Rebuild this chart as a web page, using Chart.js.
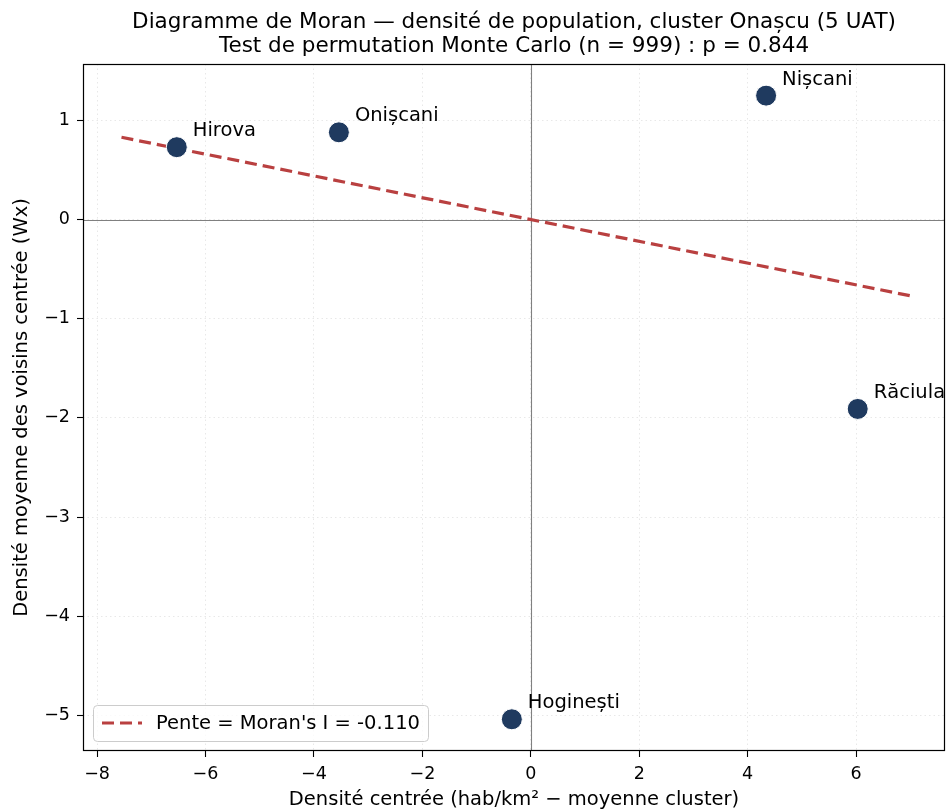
<!DOCTYPE html>
<html>
<head>
<meta charset="utf-8">
<script src="https://cdn.jsdelivr.net/npm/chart.js@4"></script>
<style>
  html, body { margin: 0; padding: 0; background: #fff; }
  #wrap { width: 946px; height: 812px; }
</style>
</head>
<body>
<div id="wrap"><canvas id="moran" width="946" height="812"></canvas></div>
<script>
// Diagramme de Moran : densité centrée vs moyenne des voisins (Wx)
const uatNames = ['Hirova', 'Onișcani', 'Nișcani', 'Răciula', 'Hoginești'];
const densiteCentree = [-6.53, -3.54, 4.34, 6.03, -0.35];
const voisinsWx = [0.73, 0.88, 1.25, -1.91, -5.04];
const penteX = [-7.55, 7.01];
const penteY = [0.83, -0.77];
const xTicks = [-8, -6, -4, -2, 0, 2, 4, 6];
const yTicks = [-5, -4, -3, -2, -1, 0, 1];
const moranI = -0.110;
const titres = [
  'Diagramme de Moran — densité de population, cluster Onașcu (5 UAT)',
  'Test de permutation Monte Carlo (n = 999) : p = 0.844'
];

const FONT = "'DejaVu Sans', sans-serif";
const BLEU = '#1f3a5f';
const ROUGE = '#b94040';
const minus = v => String(v).replace('-', '\u2212');

// cadre, axes zéro, étiquettes des UAT, légende et titre
const decor = {
  id: 'decor',
  beforeDatasetsDraw(chart) {
    const { ctx, chartArea: a, scales: { x, y } } = chart;
    ctx.save();
    ctx.strokeStyle = '#808080';
    ctx.lineWidth = 1.1;
    const x0 = Math.round(x.getPixelForValue(0)) + 0.5;
    const y0 = Math.round(y.getPixelForValue(0)) + 0.5;
    ctx.beginPath();
    ctx.moveTo(x0, a.top); ctx.lineTo(x0, a.bottom);
    ctx.moveTo(a.left, y0); ctx.lineTo(a.right, y0);
    ctx.stroke();
    ctx.restore();
  },
  afterDraw(chart) {
    const { ctx, chartArea: a, scales: { x, y } } = chart;
    ctx.save();
    ctx.strokeStyle = '#000';
    ctx.lineWidth = 1.2;
    ctx.strokeRect(a.left + 0.5, a.top + 0.5, a.right - a.left - 1, a.bottom - a.top - 1);

    ctx.fillStyle = '#000';
    ctx.font = `19.5px ${FONT}`;
    ctx.textBaseline = 'middle';
    ctx.textAlign = 'left';
    uatNames.forEach((n, i) => {
      ctx.fillText(n, x.getPixelForValue(densiteCentree[i]) + 16, y.getPixelForValue(voisinsWx[i]) - 16);
    });

    // légende en bas à gauche
    const lx = a.left + 10, ly = a.bottom - 46, lw = 335, lh = 36;
    ctx.beginPath();
    ctx.roundRect(lx + 0.5, ly + 0.5, lw, lh, 4);
    ctx.fillStyle = 'rgba(255,255,255,0.8)';
    ctx.fill();
    ctx.strokeStyle = '#cccccc';
    ctx.lineWidth = 1;
    ctx.stroke();
    ctx.beginPath();
    ctx.setLineDash([12, 6]);
    ctx.strokeStyle = ROUGE;
    ctx.lineWidth = 3.2;
    ctx.moveTo(lx + 9, ly + lh / 2); ctx.lineTo(lx + 49, ly + lh / 2);
    ctx.stroke();
    ctx.setLineDash([]);
    ctx.fillStyle = '#000';
    ctx.font = `19.5px ${FONT}`;
    ctx.fillText(chart.data.datasets[1].label, lx + 63, ly + lh / 2 + 1);

    ctx.textAlign = 'center';
    ctx.font = `21.5px ${FONT}`;
    const cx = (a.left + a.right) / 2;
    ctx.fillText(titres[0], cx, 22);
    ctx.fillText(titres[1], cx, 46);
    ctx.restore();
  }
};

new Chart(document.getElementById('moran'), {
  data: {
    datasets: [
      {
        type: 'scatter',
        label: 'UAT',
        data: densiteCentree.map((v, i) => ({ x: v, y: voisinsWx[i] })),
        backgroundColor: BLEU,
        borderColor: '#ffffff',
        borderWidth: 1,
        pointRadius: 10.5,
        order: 1
      },
      {
        type: 'line',
        label: `Pente = Moran's I = ${moranI.toFixed(3)}`,
        data: penteX.map((v, i) => ({ x: v, y: penteY[i] })),
        borderColor: ROUGE,
        borderWidth: 3.2,
        borderDash: [12, 6],
        pointRadius: 0,
        fill: false,
        order: 2
      }
    ]
  },
  options: {
    responsive: false,
    animation: false,
    events: [],
    layout: { autoPadding: false, padding: { top: 64, right: 1, left: 0, bottom: 0 } },
    plugins: {
      legend: { display: false },
      tooltip: { enabled: false },
      title: { display: false }
    },
    scales: {
      x: {
        type: 'linear',
        min: -8.26,
        max: 7.64,
        afterFit: s => { s.height = 61; s.paddingLeft = 0; s.paddingRight = 0; },
        afterBuildTicks: s => { s.ticks = xTicks.map(v => ({ value: v })); },
        ticks: { callback: minus, color: '#000', padding: 7, font: { family: FONT, size: 17.5 } },
        grid: { color: '#e2e2e2', lineWidth: 0.8, tickColor: '#000', tickLength: 6, tickWidth: 1.1, tickBorderDash: [] },
        border: { display: false, dash: [1.5, 3] },
        title: { display: true, text: 'Densité centrée (hab/km² − moyenne cluster)', color: '#000', font: { family: FONT, size: 19.5 }, padding: { top: 0, bottom: 0 } }
      },
      y: {
        type: 'linear',
        min: -5.36,
        max: 1.569,
        afterFit: s => { s.width = 83; s.paddingTop = 0; s.paddingBottom = 0; },
        afterBuildTicks: s => { s.ticks = yTicks.map(v => ({ value: v })); },
        ticks: { callback: minus, color: '#000', padding: 7, font: { family: FONT, size: 17.5 } },
        grid: { color: '#e2e2e2', lineWidth: 0.8, tickColor: '#000', tickLength: 6, tickWidth: 1.1, tickBorderDash: [] },
        border: { display: false, dash: [1.5, 3] },
        title: { display: true, text: 'Densité moyenne des voisins centrée (Wx)', color: '#000', font: { family: FONT, size: 19.5 }, padding: { top: 10, bottom: 0 } }
      }
    }
  },
  plugins: [decor]
});
</script>
</body>
</html>
